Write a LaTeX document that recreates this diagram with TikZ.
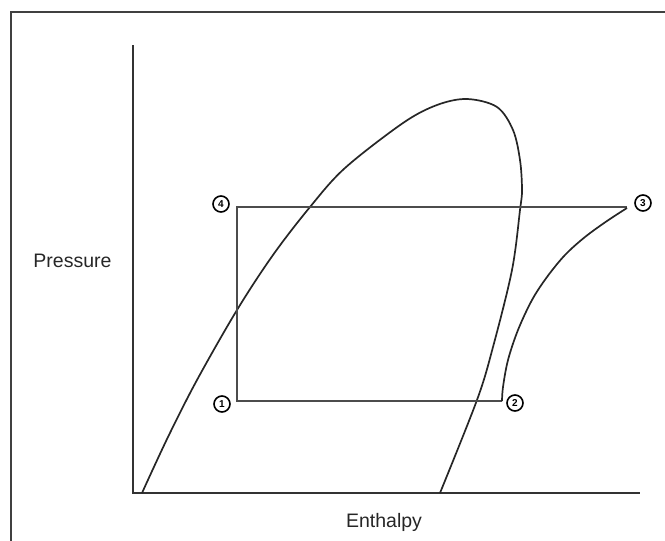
\documentclass[tikz,border=0pt]{standalone}
\usepackage{fontspec}
\setmainfont{Liberation Sans}
\begin{document}
\begin{tikzpicture}[x=1pt,y=-1pt,
  framestyle/.style={draw=black!75,line width=2pt},
  axisstyle/.style={draw=black!80,line width=1.8pt},
  cyclestyle/.style={draw=black!70,line width=1.5pt},
  curvestyle/.style={draw=black!85,line width=1.7pt},
  statept/.style={circle,draw=black,line width=1.6pt,fill=white,inner sep=0pt,minimum size=16pt,font=\fontsize{10}{10}\selectfont\bfseries},
  axislabel/.style={font=\fontsize{19.5}{22}\selectfont,text=black!85}]
\useasboundingbox (0,0) rectangle (665,541);
\clip (0,0) rectangle (665,541);
% outer frame
\draw[framestyle] (11,560) -- (11,12) -- (680,12);
% axes
\coordinate (ytop) at (133,45);
\coordinate (orig) at (133,493);
\coordinate (xend) at (640,493);
\draw[axisstyle] (ytop) -- (orig) -- (xend);
% saturation dome
\draw[curvestyle] plot[smooth,tension=0.55] coordinates {(142,493) (168,437) (197,380) (237,310) (273,255) (310,207) (345,168) (403,123) (437,105) (467,99) (497,107) (513,130) (520,160) (522,190) (520,210) (512,270) (493,347) (477,400) (440,493)};
% cycle corners
\coordinate (c4) at (237,207);
\coordinate (c1) at (237,401);
\coordinate (c2) at (502,401);
\coordinate (c3) at (627,207);
\draw[cyclestyle] (c3) -- (c4) -- (c1) -- (c2);
\draw[curvestyle] plot[smooth,tension=0.55] coordinates {(502,401) (503,387) (508,360) (518,330) (532,300) (547,277) (565,255) (585,237) (607,221) (627,208)};
% state points
\node[statept] (n4) at (221,204) {4};
\node[statept] (n1) at (222,404) {1};
\node[statept] (n2) at (515,403) {2};
\node[statept] (n3) at (643,203) {3};
% labels
\node[axislabel] (plabel) at (72.5,261) {Pressure};
\node[axislabel] (hlabel) at (384,522) {Enthalpy};
\end{tikzpicture}
\end{document}
